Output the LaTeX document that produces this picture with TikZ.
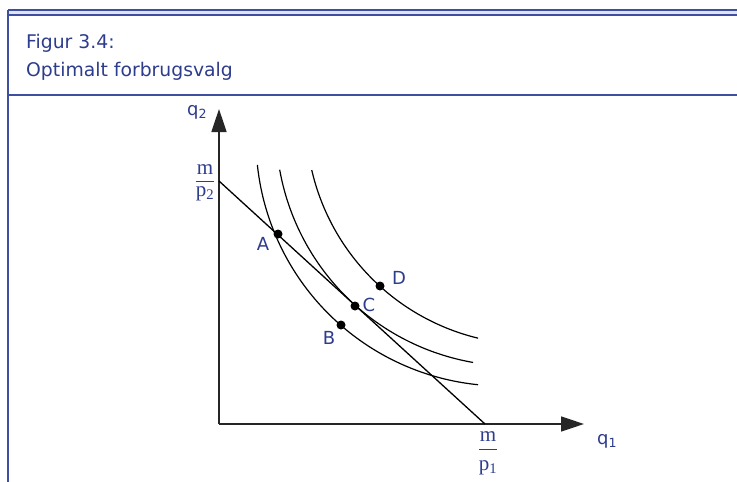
\documentclass[tikz,border=0pt]{standalone}
\usepackage{fontspec}
\setmainfont{DejaVu Sans}
\newfontfamily\fracfont{Liberation Serif}
\usetikzlibrary{arrows.meta}
\definecolor{txtblue}{RGB}{45,60,140}
\definecolor{frameblue}{RGB}{62,78,160}
\definecolor{bandgray}{RGB}{224,228,238}
\begin{document}
\begin{tikzpicture}[x=1pt,y=-1pt,
  frameline/.style={frameblue, line width=1.3pt},
  axisline/.style={draw=black!85, line width=1.6pt, -{Triangle[length=23pt,width=15pt]}},
  curve/.style={black, line width=1.2pt},
  budget/.style={black, line width=1.3pt},
  dot/.style={circle, fill=black, inner sep=0pt, minimum size=9pt},
  ptlabel/.style={text=txtblue, font=\fontsize{18}{21}\selectfont, inner sep=0pt},
  axlabel/.style={text=txtblue, font=\fontsize{18}{21}\selectfont, inner sep=0pt, anchor=base west},
  fractext/.style={text=txtblue, font=\fracfont\fontsize{21}{24}\selectfont, inner sep=0pt, anchor=base},
  fracbar/.style={txtblue, line width=1pt},
  titletext/.style={text=txtblue, font=\fontsize{18.8}{22}\selectfont, inner sep=0pt, anchor=base west}
]
\useasboundingbox (0,0) rectangle (737,482);
% frame
\fill[bandgray] (8,10) rectangle (737,15);
\coordinate (tl1) at (8,10); \coordinate (tr1) at (737,10);
\coordinate (tl2) at (8,15); \coordinate (tr2) at (737,15);
\coordinate (sl) at (8,95); \coordinate (sr) at (737,95);
\coordinate (bl) at (8,482);
\draw[frameline] (tl1) -- (tr1);
\draw[frameline] (tl2) -- (tr2);
\draw[frameline] (sl) -- (sr);
\draw[frameline] (tl1) -- (bl);
% title
\node[titletext] (t1) at (26,48) {Figur 3.4:};
\node[titletext] (t2) at (26,76) {Optimalt forbrugsvalg};
% axes
\coordinate (O) at (219,424);
\coordinate (ytip) at (219,109);
\coordinate (xtip) at (584,424);
\draw[axisline] (O) -- (ytip);
\draw[axisline] (O) -- (xtip);
\node[axlabel] (q2) at (187,115.5) {q\textsubscript{2}};
\node[axlabel] (q1) at (597,444) {q\textsubscript{1}};
% indifference curves
\draw[curve] plot[domain=95.8:174, samples=90, variable=\t] ({503+247*cos(\t)},{139+247*sin(\t)});
\draw[curve] plot[domain=99.9:169.9, samples=90, variable=\t] ({514+238*cos(\t)},{128+238*sin(\t)});
\draw[curve] plot[domain=103.6:167, samples=90, variable=\t] ({531+225*cos(\t)},{119.5+225*sin(\t)});
% budget line
\coordinate (M2) at (219,181);
\coordinate (M1) at (485,424);
\draw[budget] (M2) -- (M1);
% points
\node[dot] (A) at (278,234) {};
\node[dot] (B) at (341,325) {};
\node[dot] (C) at (355,306) {};
\node[dot] (D) at (380,286) {};
\node[ptlabel] (lA) at (263,244) {A};
\node[ptlabel] (lB) at (329,338) {B};
\node[ptlabel] (lC) at (369,305) {C};
\node[ptlabel] (lD) at (399,278) {D};
% fractions
\node[fractext] (m2) at (205,174.3) {m};
\node[fractext] (p2) at (205,196.5) {p\textsubscript{2}};
\coordinate (b2l) at (196,181); \coordinate (b2r) at (214,181);
\draw[fracbar] (b2l) -- (b2r);
\node[fractext] (m1) at (488,441.7) {m};
\node[fractext] (p1) at (488,470.5) {p\textsubscript{1}};
\coordinate (b1l) at (479,449.3); \coordinate (b1r) at (497,449.3);
\draw[fracbar] (b1l) -- (b1r);
\end{tikzpicture}
\end{document}
